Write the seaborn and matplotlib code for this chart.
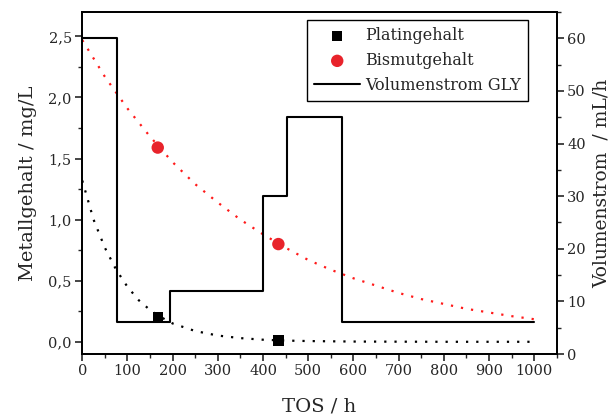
import numpy as np
import pandas as pd
import matplotlib
matplotlib.use("Agg")
import matplotlib.pyplot as plt
from matplotlib.ticker import MultipleLocator, FuncFormatter
import seaborn as sns

# Measured metal content in the product (mg/L)
tos_points = [167, 434]
platin_gehalt = [0.20, 0.01]
bismut_gehalt = [1.59, 0.80]

# Exponential decay trend curves (mg/L) over time on stream
bi_trend_tos = [0, 50, 100, 150, 200, 250, 300, 350, 400, 450, 500,
                550, 600, 650, 700, 750, 800, 850, 900, 950, 1000]
bi_trend = [2.47, 2.17, 1.91, 1.68, 1.47, 1.29, 1.14, 1.00, 0.88, 0.77, 0.67,
            0.59, 0.52, 0.46, 0.40, 0.35, 0.31, 0.27, 0.24, 0.21, 0.185]
pt_trend_tos = [0, 25, 50, 75, 100, 125, 150, 175, 200, 250, 300, 350,
                400, 450, 500, 600, 700, 800, 900, 1000]
pt_trend = [1.32, 1.00, 0.77, 0.59, 0.45, 0.34, 0.26, 0.20, 0.15, 0.088, 0.051,
            0.030, 0.017, 0.010, 0.006, 0.002, 0.001, 0.0, 0.0, 0.0]

# Glycerol feed rate (mL/h), piecewise constant from each switch time
flow_tos = [0, 76, 195, 401, 452, 574, 1000]
flow_rate = [60, 6, 12, 30, 45, 6, 6]

sns.set_theme(style="ticks")
plt.rcParams["font.family"] = ["DejaVu Serif"]
plt.rcParams["axes.linewidth"] = 1.3

fig = plt.figure(figsize=(6.15, 4.18), dpi=100)
ax = fig.add_axes([0.1338, 0.1531, 0.9052 - 0.1338, 0.9713 - 0.1531])
ax2 = ax.twinx()

red_line = "#ff1a1a"
red_marker = "#e8232b"
dots = (0, (1, 3.6))

sns.lineplot(x=bi_trend_tos, y=bi_trend, ax=ax, color=red_line, lw=1.6,
             linestyle=dots, sort=False, estimator=None)
sns.lineplot(x=pt_trend_tos, y=pt_trend, ax=ax, color="black", lw=1.6,
             linestyle=dots, sort=False, estimator=None)
sns.scatterplot(x=tos_points, y=platin_gehalt, ax=ax, marker="s", s=55,
                color="black", edgecolor="none", label="Platingehalt", zorder=5)
sns.scatterplot(x=tos_points, y=bismut_gehalt, ax=ax, marker="o", s=80,
                color=red_marker, edgecolor="none", label="Bismutgehalt", zorder=5)

flow = pd.DataFrame({"TOS": flow_tos, "Volumenstrom": flow_rate})
sns.lineplot(data=flow, x="TOS", y="Volumenstrom", ax=ax2, color="black", lw=1.5,
             drawstyle="steps-post", label="Volumenstrom GLY", estimator=None)

for a in (ax, ax2):
    if a.get_legend() is not None:
        a.get_legend().remove()

ax.set_xlim(0, 1050)
ax.set_ylim(-0.1, 2.7)
ax2.set_ylim(0, 65)

ax.xaxis.set_major_locator(MultipleLocator(100))
ax.xaxis.set_minor_locator(MultipleLocator(50))
ax.yaxis.set_major_locator(MultipleLocator(0.5))
ax.yaxis.set_minor_locator(MultipleLocator(0.25))
ax.yaxis.set_major_formatter(FuncFormatter(lambda v, p: f"{v:.1f}".replace(".", ",")))
ax2.yaxis.set_major_locator(MultipleLocator(10))
ax2.yaxis.set_minor_locator(MultipleLocator(5))

for a in (ax, ax2):
    a.tick_params(which="major", length=5, width=1.2, labelsize=10.5, pad=2.5, direction="out")
    a.tick_params(which="minor", length=3, width=1.0, direction="out")
    for s in a.spines.values():
        s.set_visible(True)
        s.set_linewidth(1.3)
        s.set_color("black")
ax.tick_params(top=False, right=False, which="both")
ax2.tick_params(left=False, top=False, which="both")

ax.set_xlabel("TOS / h", fontsize=14, labelpad=14)
ax.set_ylabel("Metallgehalt / mg/L", fontsize=14, labelpad=8)
ax2.set_ylabel("Volumenstrom  / mL/h", fontsize=13.5, labelpad=5)

h1, l1 = ax.get_legend_handles_labels()
h2, l2 = ax2.get_legend_handles_labels()
leg = ax2.legend(h1 + h2, l1 + l2, loc="upper right",
                 bbox_to_anchor=(0.94, 0.977), fontsize=11.5, frameon=True,
                 fancybox=False, edgecolor="black", handlelength=2.9,
                 borderpad=0.45, labelspacing=0.5, handletextpad=0.3,
                 borderaxespad=0)
leg.get_frame().set_linewidth(1.0)
leg.get_frame().set_alpha(1)

fig.savefig("out.png", dpi=100)
